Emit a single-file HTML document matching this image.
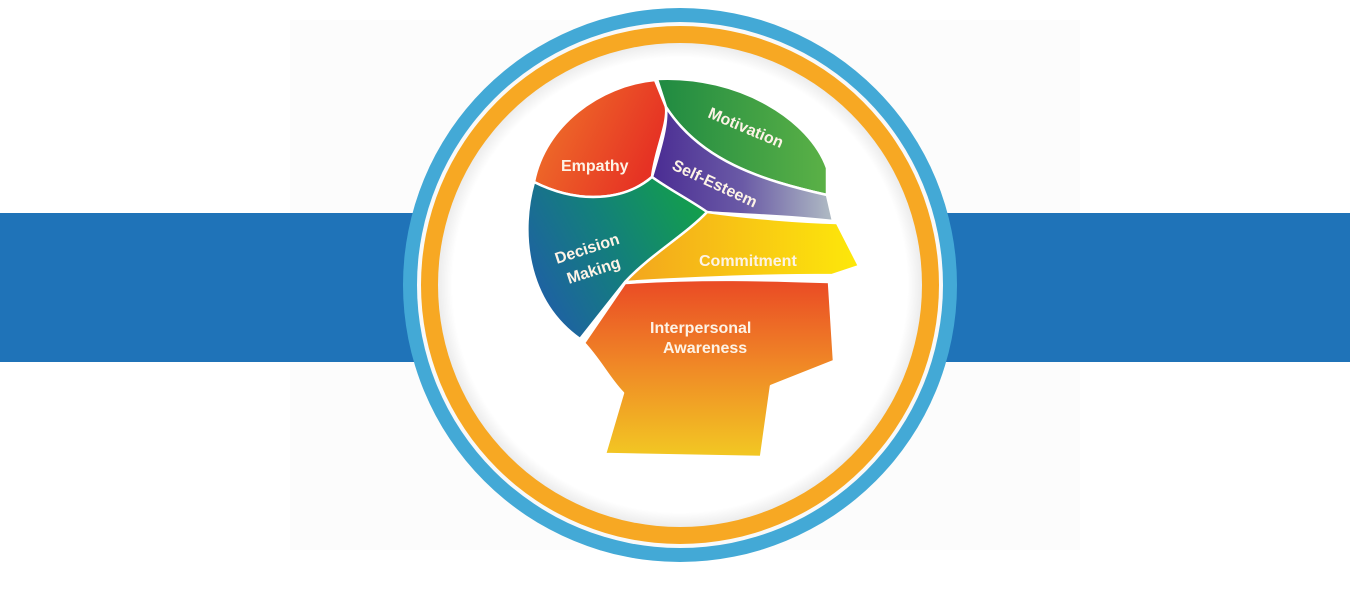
<!DOCTYPE html>
<html><head><meta charset="utf-8"><style>
html,body{margin:0;padding:0;background:#fff;width:1350px;height:590px;overflow:hidden}
svg{display:block}
text{font-family:"Liberation Sans",sans-serif;font-weight:bold;fill:#fdf3e6}
</style></head><body>
<svg width="1350" height="590" viewBox="0 0 1350 590">
<defs>
<linearGradient id="emp" x1="0" y1="0" x2="1" y2="0.4"><stop offset="0" stop-color="#f07a2a"/><stop offset="1" stop-color="#e63224"/></linearGradient>
<linearGradient id="mot" x1="0" y1="0" x2="1" y2="0"><stop offset="0" stop-color="#1f8a42"/><stop offset="1" stop-color="#5bb146"/></linearGradient>
<linearGradient id="se" x1="0" y1="0" x2="1" y2="0"><stop offset="0" stop-color="#4a2c93"/><stop offset="0.5" stop-color="#6a5aa6"/><stop offset="1" stop-color="#b0bcc4"/></linearGradient>
<linearGradient id="com" x1="0" y1="0" x2="1" y2="0"><stop offset="0" stop-color="#f3a51e"/><stop offset="1" stop-color="#fde80a"/></linearGradient>
<linearGradient id="dec" x1="0" y1="0.7" x2="1" y2="0.2"><stop offset="0" stop-color="#1f5fa6"/><stop offset="0.5" stop-color="#13807a"/><stop offset="1" stop-color="#13a04a"/></linearGradient>
<linearGradient id="int" x1="0" y1="0" x2="0" y2="1"><stop offset="0" stop-color="#ea4a25"/><stop offset="0.5" stop-color="#f08a26"/><stop offset="1" stop-color="#f2c823"/></linearGradient>
<radialGradient id="inner" cx="0.5" cy="0.5" r="0.5"><stop offset="0.94" stop-color="#ffffff"/><stop offset="1" stop-color="#ececec"/></radialGradient>
</defs>
<rect x="290" y="20" width="790" height="530" fill="#fcfcfc"/>
<rect x="0" y="213" width="1350" height="149" fill="#1f73b8"/>
<circle cx="680" cy="285" r="277" fill="#43a9d6"/>
<circle cx="680" cy="285" r="263" fill="#f9f9f9"/>
<circle cx="680" cy="285" r="259" fill="#f7a823"/>
<circle cx="680" cy="285" r="242" fill="url(#inner)"/>
<g stroke="#fff" stroke-width="2.5" stroke-linejoin="round">
<path d="M655,80 C600,85 545,125 534,182 C580,205 625,200 652,177 C655,150 668,125 666,107 Z" fill="url(#emp)"/>
<path d="M657,79 C740,75 810,120 827,168 L827,195 C760,180 700,160 666,107 Z" fill="url(#mot)"/>
<path d="M666,107 C700,160 760,180 827,195 L833,221 C780,215 740,215 705,212 C690,200 670,190 652,177 C660,150 668,125 666,107 Z" fill="url(#se)"/>
<path d="M707,212 C750,218 800,222 837,223 L859,266 L832,275 C760,275 690,278 625,282 C650,255 685,235 707,212 Z" fill="url(#com)"/>
<path d="M534,182 C520,230 525,300 580,339 L625,282 C650,255 685,235 707,212 C690,200 670,190 652,177 C625,200 580,205 534,182 Z" fill="url(#dec)"/>
<path d="M625,283 C700,278 770,280 829,282 L834,361 L771,386 L761,457 L605,454 L623,393 C610,380 600,360 584,343 Z" fill="url(#int)"/>
</g>
<text x="561" y="171" font-size="16">Empathy</text>
<text x="0" y="0" font-size="16" transform="translate(707,117) rotate(23)">Motivation</text>
<text x="0" y="0" font-size="16" transform="translate(671,169) rotate(25)">Self-Esteem</text>
<text x="0" y="0" font-size="16" transform="translate(557,264) rotate(-18)">Decision</text>
<text x="0" y="0" font-size="16" transform="translate(569,284) rotate(-18)">Making</text>
<text x="699" y="266" font-size="16">Commitment</text>
<text x="650" y="333" font-size="16">Interpersonal</text>
<text x="663" y="353" font-size="16">Awareness</text>
</svg>
</body></html>
